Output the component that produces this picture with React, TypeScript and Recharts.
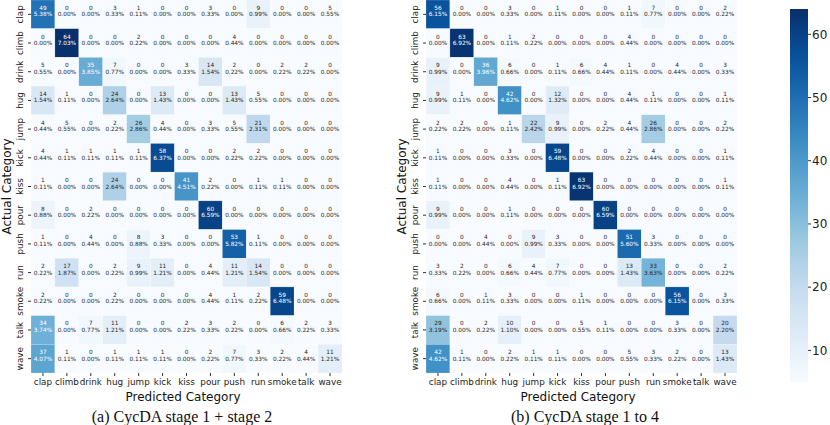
import React from 'react';
import { ScatterChart, Scatter, XAxis, YAxis, ComposedChart, ReferenceArea } from 'recharts';

const categories = ['clap', 'climb', 'drink', 'hug', 'jump', 'kick', 'kiss', 'pour', 'push', 'run', 'smoke', 'talk', 'wave'];

// rows = actual, columns = predicted
const stage12 = [
  [49, 0, 0, 3, 1, 0, 0, 3, 0, 9, 0, 0, 5],
  [0, 64, 0, 0, 2, 0, 0, 0, 4, 0, 0, 0, 0],
  [5, 0, 35, 7, 0, 0, 3, 14, 2, 0, 2, 2, 0],
  [14, 1, 0, 24, 0, 13, 0, 0, 13, 5, 0, 0, 0],
  [4, 5, 0, 2, 26, 4, 0, 3, 5, 21, 0, 0, 0],
  [4, 1, 1, 1, 1, 58, 0, 0, 2, 2, 0, 0, 0],
  [1, 0, 0, 24, 0, 0, 41, 2, 0, 1, 1, 0, 0],
  [8, 0, 2, 0, 0, 0, 0, 60, 0, 0, 0, 0, 0],
  [1, 0, 4, 0, 8, 3, 0, 0, 53, 1, 0, 0, 0],
  [2, 17, 0, 2, 9, 11, 0, 4, 11, 14, 0, 0, 0],
  [2, 0, 0, 2, 0, 0, 0, 4, 1, 2, 59, 0, 0],
  [34, 0, 7, 11, 0, 0, 2, 3, 2, 0, 6, 2, 3],
  [37, 1, 0, 1, 1, 1, 0, 2, 7, 3, 2, 4, 11],
];

const stage14 = [
  [56, 0, 0, 3, 0, 1, 0, 0, 1, 7, 0, 0, 2],
  [0, 63, 0, 1, 2, 0, 0, 0, 4, 0, 0, 0, 0],
  [9, 0, 36, 6, 0, 1, 6, 4, 1, 0, 4, 0, 3],
  [9, 1, 0, 42, 0, 12, 0, 0, 4, 1, 0, 0, 1],
  [2, 2, 0, 1, 22, 9, 0, 2, 4, 26, 0, 0, 2],
  [1, 0, 0, 3, 0, 59, 0, 0, 2, 4, 0, 0, 1],
  [1, 0, 0, 4, 0, 1, 63, 0, 0, 0, 0, 0, 1],
  [9, 0, 0, 1, 0, 0, 0, 60, 0, 0, 0, 0, 0],
  [0, 0, 4, 0, 9, 3, 0, 0, 51, 3, 0, 0, 0],
  [3, 2, 0, 6, 4, 7, 0, 0, 13, 33, 0, 0, 2],
  [6, 0, 1, 3, 0, 0, 1, 0, 0, 0, 56, 0, 3],
  [29, 0, 2, 10, 0, 0, 5, 1, 0, 0, 3, 0, 20],
  [42, 1, 0, 2, 1, 1, 0, 0, 5, 3, 2, 0, 13],
];

const colorbarTicks = [10, 20, 30, 40, 50, 60];
const cellTicks = categories.map((_, i) => i + 0.5);

const VMIN = 5;
const VMAX = 64;
const BLUES = ['#f7fbff', '#deebf7', '#c6dbef', '#9ecae1', '#6baed6', '#4292c6', '#2171b5', '#08519c', '#08306b'];

const PLOT_W = 311;
const PLOT_H = 373;
const CW = PLOT_W / 13;
const CH = PLOT_H / 13;

const hexRgb = (h: string) => [1, 3, 5].map(i => parseInt(h.slice(i, i + 2), 16));

function blues(v: number) {
  const t = Math.max(0, Math.min(1, (v - VMIN) / (VMAX - VMIN)));
  const p = t * 8;
  const i = Math.min(7, Math.floor(p));
  const f = p - i;
  const a = hexRgb(BLUES[i]);
  const b = hexRgb(BLUES[i + 1]);
  return a.map((c, k) => Math.round(c + (b[k] - c) * f));
}

function luminance(rgb: number[]) {
  const lin = rgb.map(c => {
    const s = c / 255;
    return s <= 0.03928 ? s / 12.92 : Math.pow((s + 0.055) / 1.055, 2.4);
  });
  return 0.2126 * lin[0] + 0.7152 * lin[1] + 0.0722 * lin[2];
}

const HeatCell = (props: any) => {
  const { cx, cy, payload } = props;
  const rgb = blues(payload.count);
  const tc = luminance(rgb) > 0.408 ? '#262626' : '#ffffff';
  return (
    <g>
      <rect
        x={cx - CW / 2}
        y={cy - CH / 2}
        width={CW}
        height={CH}
        fill={`rgb(${rgb.join(',')})`}
        stroke="#ffffff"
        strokeOpacity={0.4}
        strokeWidth={0.5}
      />
      <text x={cx} y={cy - 6.5} textAnchor="middle" dominantBaseline="central" fontSize={5.8} fill={tc}>
        {payload.count}
      </text>
      <text x={cx} y={cy} textAnchor="middle" dominantBaseline="central" fontSize={5.8} fill={tc}>
        {payload.pct}
      </text>
    </g>
  );
};

const XTick = (props: any) => {
  const { x, payload } = props;
  return (
    <text x={x} y={382} textAnchor="middle" dominantBaseline="central" fontSize={8.8} fill="#222">
      {categories[Math.floor(payload.value)]}
    </text>
  );
};

const YTick = (props: any) => {
  const { y, payload } = props;
  return (
    <text
      x={20}
      y={y}
      transform={`rotate(-90, 20, ${y})`}
      textAnchor="middle"
      dominantBaseline="central"
      fontSize={8.8}
      fill="#222"
    >
      {categories[Math.floor(payload.value)]}
    </text>
  );
};

interface MatrixProps {
  counts: number[][];
  left: number;
  caption: string;
  captionX: number;
}

const Matrix: React.FC<MatrixProps> = ({ counts, left, caption, captionX }) => {
  const total = counts.flat().reduce((s, v) => s + v, 0);
  const cells = counts.flatMap((row, i) =>
    row.map((c, j) => ({
      x: j + 0.5,
      y: i + 0.5,
      count: c,
      pct: `${((c / total) * 100).toFixed(2)}%`,
    }))
  );

  return (
    <div style={{ position: 'absolute', left, top: 0 }}>
      <ScatterChart width={344} height={425} margin={{ top: 0, right: 2, bottom: 30, left: 6 }}>
        <XAxis
          type="number"
          dataKey="x"
          domain={[0, 13]}
          allowDataOverflow
          ticks={cellTicks}
          interval={0}
          axisLine={false}
          tickSize={3}
          tickMargin={0}
          height={22}
          tickLine={{ stroke: '#333' }}
          tick={(p: any) => <XTick {...p} />}
          label={() => (
            <g>
              <text x={183} y={397} textAnchor="middle" dominantBaseline="central" fontSize={12} fill="#111">
                Predicted Category
              </text>
              <text
                x={captionX}
                y={416}
                textAnchor="middle"
                dominantBaseline="central"
                fontSize={16}
                fontFamily="'Liberation Serif', serif"
                fill="#111"
              >
                {caption}
              </text>
            </g>
          )}
        />
        <YAxis
          type="number"
          dataKey="y"
          domain={[0, 13]}
          allowDataOverflow
          reversed
          ticks={cellTicks}
          interval={0}
          axisLine={false}
          tickSize={3}
          tickMargin={0}
          width={25}
          tickLine={{ stroke: '#333' }}
          tick={(p: any) => <YTick {...p} />}
          label={() => (
            <text
              x={7}
              y={186.5}
              transform="rotate(-90, 7, 186.5)"
              textAnchor="middle"
              dominantBaseline="central"
              fontSize={12}
              fill="#111"
            >
              Actual Category
            </text>
          )}
        />
        <Scatter data={cells} shape={HeatCell} isAnimationActive={false} />
      </ScatterChart>
    </div>
  );
};

const Colorbar: React.FC = () => (
  <div style={{ position: 'absolute', left: 790, top: 0 }}>
    <ComposedChart width={40} height={425} margin={{ top: 9, right: 0, bottom: 43, left: 0 }} data={[{ x: 0 }, { x: 1 }]}>
      <defs>
        <linearGradient id="cbBlues" x1="0" y1="1" x2="0" y2="0">
          {BLUES.map((c, i) => (
            <stop key={c} offset={i / (BLUES.length - 1)} stopColor={c} />
          ))}
        </linearGradient>
      </defs>
      <XAxis type="number" dataKey="x" domain={[0, 1]} hide />
      <YAxis
        type="number"
        orientation="right"
        domain={[VMIN, VMAX]}
        allowDataOverflow
        ticks={colorbarTicks}
        interval={0}
        width={22}
        axisLine={false}
        tickSize={3}
        tickMargin={1}
        tickLine={{ stroke: '#333' }}
        tick={{ fontSize: 12, fill: '#222' }}
      />
      <ReferenceArea x1={0} x2={1} y1={VMIN} y2={VMAX} fill="url(#cbBlues)" fillOpacity={1} stroke="none" ifOverflow="visible" />
    </ComposedChart>
  </div>
);

export default function App() {
  return (
    <div
      style={{
        position: 'absolute',
        left: 0,
        top: 0,
        width: 830,
        height: 425,
        background: '#fff',
        fontFamily: "'DejaVu Sans', sans-serif",
      }}
    >
      <Matrix counts={stage12} left={0} caption="(a) CycDA stage 1 + stage 2" captionX={182} />
      <Matrix counts={stage14} left={395} caption="(b) CycDA stage 1 to 4" captionX={190} />
      <Colorbar />
    </div>
  );
}
